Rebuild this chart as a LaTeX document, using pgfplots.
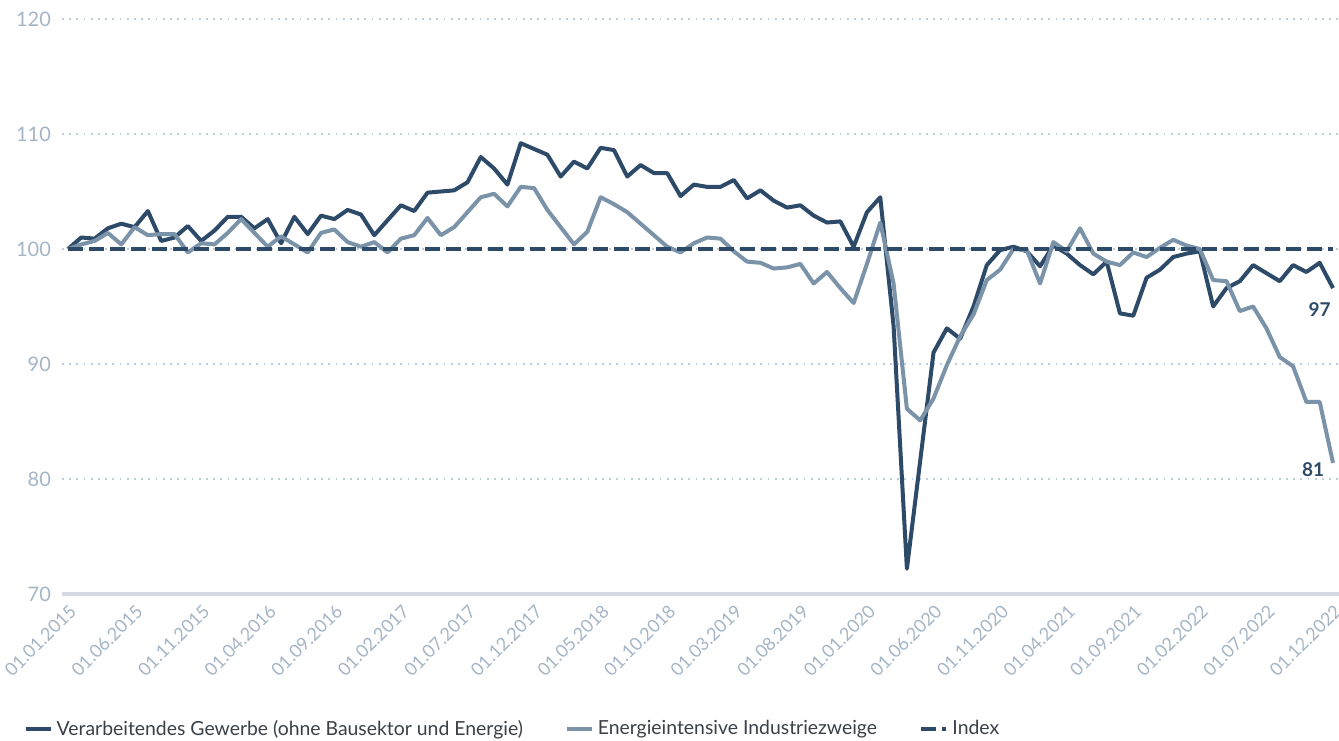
\documentclass[border=0pt]{standalone}
\usepackage{fontspec}
\setmainfont{Lato}
\usepackage{graphicx}
\usepackage{pgfplots}
\usepackage{pgfplotstable}
\pgfplotsset{compat=1.18}
\definecolor{darkc}{HTML}{2D4A69}
\definecolor{lightc}{HTML}{7B93A8}
\definecolor{tickc}{HTML}{A5B5C6}
\definecolor{gridc}{HTML}{BFCCDB}
\definecolor{basec}{HTML}{D3DAE3}
\definecolor{legc}{HTML}{3A4048}
\newcommand{\rl}[1]{\rotatebox{45}{#1}}
\pgfplotstableread{
x a b
0 100.0 100.0
1 101.0 100.4
2 100.9 100.7
3 101.8 101.4
4 102.2 100.4
5 101.9 101.9
6 103.3 101.2
7 100.7 101.3
8 101.0 101.3
9 102.0 99.7
10 100.7 100.5
11 101.6 100.4
12 102.8 101.4
13 102.8 102.6
14 101.8 101.4
15 102.6 100.2
16 100.5 101.1
17 102.8 100.4
18 101.3 99.7
19 102.9 101.4
20 102.6 101.7
21 103.4 100.6
22 103.0 100.2
23 101.2 100.6
24 102.5 99.7
25 103.8 100.9
26 103.3 101.2
27 104.9 102.7
28 105.0 101.2
29 105.1 101.9
30 105.8 103.2
31 108.0 104.5
32 107.0 104.8
33 105.6 103.7
34 109.2 105.4
35 108.7 105.3
36 108.2 103.4
37 106.3 101.9
38 107.6 100.4
39 107.0 101.5
40 108.8 104.5
41 108.6 103.9
42 106.3 103.2
43 107.3 102.2
44 106.6 101.2
45 106.6 100.2
46 104.6 99.7
47 105.6 100.5
48 105.4 101.0
49 105.4 100.9
50 106.0 99.8
51 104.4 98.9
52 105.1 98.8
53 104.2 98.3
54 103.6 98.4
55 103.8 98.7
56 102.9 97.0
57 102.3 98.0
58 102.4 96.6
59 100.2 95.3
60 103.2 98.7
61 104.5 102.3
62 93.3 97.0
63 72.2 86.1
64 81.6 85.1
65 91.0 87.0
66 93.1 89.9
67 92.2 92.4
68 95.0 94.3
69 98.6 97.3
70 99.9 98.2
71 100.2 100.0
72 99.8 99.9
73 98.5 97.0
74 100.3 100.6
75 99.6 99.8
76 98.6 101.8
77 97.8 99.6
78 98.9 98.9
79 94.4 98.6
80 94.2 99.7
81 97.5 99.3
82 98.2 100.1
83 99.3 100.8
84 99.6 100.3
85 99.8 100.0
86 95.0 97.3
87 96.6 97.2
88 97.2 94.6
89 98.6 95.0
90 97.9 93.1
91 97.2 90.6
92 98.6 89.8
93 98.0 86.7
94 98.8 86.7
95 96.6 81.4
}\data
\begin{document}
\begin{tikzpicture}
\begin{axis}[
  at={(31pt,73pt)}, anchor=south west,
  scale only axis, width=638.5pt, height=287.5pt,
  xmin=-0.45, xmax=95.45, ymin=70, ymax=120,
  axis x line*=bottom, axis y line*=left,
  x axis line style={draw=basec, line width=1.6pt, -},
  y axis line style={draw=none},
  ytick={70,80,...,120},
  xtick={0,5,...,95},
  xticklabels={\rl{01.01.2015},\rl{01.06.2015},\rl{01.11.2015},\rl{01.04.2016},\rl{01.09.2016},\rl{01.02.2017},\rl{01.07.2017},\rl{01.12.2017},\rl{01.05.2018},\rl{01.10.2018},\rl{01.03.2019},\rl{01.08.2019},\rl{01.01.2020},\rl{01.06.2020},\rl{01.11.2020},\rl{01.04.2021},\rl{01.09.2021},\rl{01.02.2022},\rl{01.07.2022},\rl{01.12.2022}},
  major tick length=0pt,
  ymajorgrids,
  major grid style={draw=gridc, line width=0.9pt, dash pattern=on 0.9pt off 2.7pt},
  /pgf/number format/assume math mode=true,
  every y tick label/.append style={font=\fontsize{10}{12}\selectfont, text=tickc, anchor=east, xshift=-2pt},
  every x tick label/.append style={font=\fontsize{9}{10}\selectfont, text=tickc, inner sep=0pt, anchor=north east, xshift=5pt, yshift=-4.5pt},
  legend style={at={(-0.035,-0.235)}, anchor=west, draw=none, fill=none,
    font=\fontsize{9.7}{11}\selectfont, text=legc,
    /tikz/every even column/.append style={column sep=19pt}},
  legend columns=-1,
  legend cell align=left,
  legend image code/.code={\draw[#1] (0pt,0pt) -- (12.5pt,0pt);},
]
\addplot[darkc, line width=2pt, line join=round] table[x=x, y=a] {\data};
\addlegendentry{Verarbeitendes Gewerbe (ohne Bausektor und Energie)}
\addplot[lightc, line width=2pt, line join=round] table[x=x, y=b] {\data};
\addlegendentry{Energieintensive Industriezweige}
\addplot[darkc, line width=2.2pt, dash pattern=on 7.5pt off 3pt] coordinates {(0,100) (95,100)};
\addlegendentry{Index}
\node[font=\bfseries\fontsize{9.5}{11}\selectfont, text=darkc] at (axis cs:94.0,94.7) {97};
\node[font=\bfseries\fontsize{9.5}{11}\selectfont, text=darkc] at (axis cs:93.5,80.8) {81};
\end{axis}
\pgfresetboundingbox
\path (0,0) rectangle (669.5pt,370pt);
\end{tikzpicture}
\end{document}
